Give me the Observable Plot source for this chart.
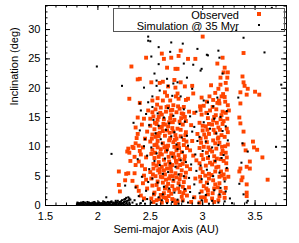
<!DOCTYPE html>
<html><head><meta charset="utf-8">
<script src="https://cdn.jsdelivr.net/npm/d3@7"></script>
<script src="https://cdn.jsdelivr.net/npm/@observablehq/plot@0.6"></script>
<style>
body{margin:0;background:#fff;}
#wrap{position:relative;width:299px;height:243px;font-family:"Liberation Sans",Arial,Helvetica,sans-serif;}
#legend{position:absolute;left:113px;top:8px;width:170px;height:22px;border:1px solid #555;box-sizing:content-box;}
.lt{position:absolute;right:45px;font-size:11px;line-height:11px;color:#000;white-space:nowrap;}
.mk{position:absolute;}
</style></head><body>
<div id="wrap"><div id="legend">
<span class="lt" style="top:1px">Observed</span>
<span class="lt" style="top:12px">Simulation @ 35 Myr</span>
<div class="mk" style="left:143px;top:3px;width:4px;height:4px;background:#ff4500"></div>
<div class="mk" style="left:144px;top:15px;width:2px;height:2px;background:#000"></div>
</div></div>
<script>
const xTicks = [1.5, 2, 2.5, 3, 3.5];
const yTicks = [0, 5, 10, 15, 20, 25, 30];
const xLabel = "Semi-major Axis (AU)";
const yLabel = "Inclination (deg)";
const legendNames = ["Observed", "Simulation @ 35 Myr"];

const observed = [
[2.20,5.8],[2.20,3.5],[2.21,2.4],[2.26,4.3],[2.27,5.4],[2.29,5.5],[2.30,18.2],[2.32,23.7],[2.38,21.5],[2.40,21.6],[2.46,25.2],[2.29,9.7],[2.30,9.0],[2.33,10.0],[2.34,9.8],[2.38,12.2],[2.36,13.3],[2.38,15.0],[2.44,14.8],[2.36,10.6],[2.37,11.5],[2.39,10.2],[2.40,9.3],[2.41,8.7],[2.39,7.5],[2.42,6.8],[2.36,6.9],[2.35,5.5],[2.33,4.2],[2.37,3.2],[2.39,2.5],[2.41,1.7],[2.43,3.8],[2.44,5.1],[2.45,6.2],[2.46,4.4],[2.47,2.9],[2.43,9.9],[2.45,11.4],[2.47,12.6],[2.46,8.2],[2.42,13.8],[2.48,16.2],[2.40,17.5],[2.35,8.3],[2.31,7.6],[2.28,9.2],[2.44,1.2],
[2.51,1.2],[2.52,3.4],[2.50,5.7],[2.53,7.1],[2.51,8.8],[2.54,10.3],[2.52,12.1],[2.50,13.6],[2.53,15.2],[2.55,16.4],[2.51,4.6],[2.54,2.2],[2.52,9.5],[2.55,11.7],[2.53,6.3],[2.50,14.8],[2.54,13.0],[2.52,17.9],[2.51,21.0],[2.55,5.0],[2.53,0.6],[2.54,8.1],[2.50,10.9],[2.52,15.9],
[2.56,0.9],[2.58,2.8],[2.57,4.1],[2.59,5.6],[2.56,6.8],[2.58,8.3],[2.60,9.6],[2.57,11.0],[2.59,12.4],[2.56,13.9],[2.58,15.1],[2.60,16.7],[2.57,18.3],[2.59,20.9],[2.56,3.5],[2.58,7.4],[2.60,4.9],[2.57,9.9],[2.59,13.3],[2.56,10.4],[2.60,1.8],[2.58,11.8],[2.61,25.9],[2.57,14.6],[2.59,6.2],
[2.61,0.5],[2.63,2.1],[2.62,3.9],[2.64,5.3],[2.61,6.6],[2.63,7.8],[2.65,9.2],[2.62,10.6],[2.64,11.9],[2.61,13.4],[2.63,14.7],[2.65,16.0],[2.62,17.9],[2.64,19.3],[2.63,25.0],[2.61,8.7],[2.65,4.4],[2.62,12.7],[2.64,2.9],[2.61,15.5],[2.65,10.1],[2.63,6.0],[2.62,21.1],[2.64,13.8],[2.66,23.5],[2.65,1.3],
[2.66,0.8],[2.68,2.5],[2.67,3.7],[2.69,5.0],[2.66,6.3],[2.68,7.5],[2.70,8.9],[2.67,10.2],[2.69,11.5],[2.66,12.8],[2.68,14.2],[2.70,15.4],[2.67,16.9],[2.69,17.9],[2.70,25.2],[2.66,9.6],[2.68,4.6],[2.70,2.0],[2.67,13.5],[2.69,7.0],[2.66,18.7],[2.68,11.1],[2.70,5.8],[2.67,20.3],[2.69,14.9],
[2.71,1.1],[2.73,2.7],[2.72,4.2],[2.74,5.5],[2.71,6.9],[2.73,8.2],[2.75,9.4],[2.72,10.8],[2.74,12.0],[2.71,13.2],[2.73,14.6],[2.75,15.9],[2.72,17.1],[2.74,20.1],[2.74,23.3],[2.71,3.3],[2.75,7.3],[2.72,12.6],[2.74,0.4],[2.73,10.0],[2.71,16.3],[2.75,4.8],[2.72,8.8],[2.73,21.4],[2.75,11.4],
[2.76,0.7],[2.78,2.3],[2.77,3.8],[2.79,5.2],[2.76,6.5],[2.78,7.9],[2.80,9.1],[2.77,10.5],[2.79,11.8],[2.76,13.1],[2.78,14.3],[2.80,15.7],[2.77,18.2],[2.76,19.1],[2.77,25.5],[2.79,26.4],[2.76,23.3],[2.78,4.5],[2.80,1.5],[2.77,8.6],[2.79,12.9],[2.76,10.0],[2.80,6.0],[2.78,16.5],[2.79,21.0],
[2.81,0.9],[2.83,2.6],[2.82,4.0],[2.84,5.6],[2.81,7.1],[2.83,8.4],[2.85,9.8],[2.82,11.2],[2.84,12.5],[2.81,13.8],[2.83,15.1],[2.82,16.8],[2.84,18.0],[2.81,3.2],[2.85,6.7],[2.82,10.3],[2.84,14.4],[2.83,20.3],[2.85,1.7],
[2.535,1.9],[2.525,5.3],[2.545,9.0],[2.515,11.4],[2.545,14.1],[2.585,1.1],[2.575,6.0],[2.595,8.9],[2.565,12.2],[2.595,15.8],[2.565,17.2],[2.625,1.4],[2.615,4.8],[2.645,7.0],[2.635,9.9],[2.625,13.9],[2.655,16.8],[2.675,1.6],[2.655,3.2],[2.695,6.4],[2.675,8.3],[2.685,12.4],[2.695,16.2],[2.725,0.9],[2.715,5.0],[2.745,7.6],[2.735,11.2],[2.715,14.2],[2.745,18.6],[2.765,2.9],[2.785,6.9],[2.775,9.8],[2.795,14.9],[2.765,16.9],[2.815,2.1],[2.835,4.8],[2.825,7.8],[2.845,10.9],[2.815,15.6],[2.835,12.0],
[2.86,25.0],[2.86,18.2],[2.87,3.1],[2.88,9.4],[2.89,13.7],[2.90,20.4],[2.91,19.1],[2.88,6.2],[2.92,1.4],[2.93,25.0],[2.90,11.0],[2.92,15.8],[2.94,7.7],[2.87,16.0],[2.93,4.6],[2.95,12.2],[2.89,0.6],[2.91,8.5],
[2.97,0.5],[2.99,2.4],[2.98,4.1],[3.00,5.7],[2.97,7.2],[2.99,8.6],[3.01,10.0],[2.98,11.4],[3.00,12.8],[2.97,14.1],[2.99,15.5],[3.01,17.0],[2.99,18.4],[3.00,28.8],[2.98,6.3],[3.01,3.3],[2.97,9.8],[3.00,13.6],[3.02,1.4],[2.98,16.3],
[3.03,0.8],[3.05,2.6],[3.04,3.9],[3.06,5.4],[3.03,6.8],[3.05,8.1],[3.07,9.5],[3.04,10.8],[3.06,12.2],[3.03,13.5],[3.05,14.9],[3.07,16.2],[3.04,17.7],[3.06,4.6],[3.03,11.6],[3.07,7.3],[3.05,1.9],[3.06,13.9],[3.04,9.0],[3.08,20.5],
[3.09,1.2],[3.11,2.9],[3.10,4.3],[3.12,5.8],[3.09,7.0],[3.11,8.4],[3.13,9.7],[3.10,11.1],[3.12,12.4],[3.09,13.8],[3.11,15.1],[3.13,16.4],[3.10,18.0],[3.12,19.2],[3.14,24.2],[3.12,3.6],[3.09,9.2],[3.13,6.5],[3.10,14.5],[3.11,0.6],[3.14,17.5],[3.12,10.6],
[3.15,0.9],[3.17,2.4],[3.16,3.8],[3.18,5.1],[3.15,6.6],[3.17,7.9],[3.19,9.3],[3.16,10.7],[3.18,12.0],[3.15,13.3],[3.17,14.7],[3.19,16.0],[3.16,17.4],[3.18,18.6],[3.15,19.9],[3.17,21.8],[3.19,25.2],[3.20,22.7],[3.16,4.9],[3.18,8.8],[3.15,11.6],[3.19,13.9],[3.17,20.6],[3.16,1.6],[3.18,15.4],
[3.21,1.3],[3.22,3.0],[3.21,4.6],[3.23,6.1],[3.20,7.6],[3.22,9.0],[3.24,10.4],[3.21,11.7],[3.23,13.1],[3.20,14.4],[3.22,15.8],[3.24,17.1],[3.21,18.5],[3.23,19.8],[3.21,23.5],[3.24,22.7],[3.22,20.9],[3.20,5.3],[3.23,8.2],[3.24,12.5],[3.25,16.2],
[2.985,1.4],[2.975,4.9],[3.005,7.9],[2.985,10.7],[3.015,12.1],[2.975,16.9],[3.035,2.9],[3.025,5.1],[3.055,9.9],[3.045,12.9],[3.035,15.8],[3.065,18.6],[3.095,2.1],[3.085,5.2],[3.115,7.5],[3.105,12.9],[3.125,15.4],[3.095,16.8],[3.145,3.1],[3.135,8.0],[3.145,11.4],[3.135,14.1],[3.155,17.9],[3.175,5.8],[3.185,10.0],[3.165,12.9],[3.195,19.0],[3.205,2.1],[3.225,7.2],[3.215,10.1],[3.235,14.8],[3.215,17.7],[3.245,4.9],[3.235,21.8],
[3.39,26.0],[3.38,22.0],[3.39,21.0],[3.40,20.4],[3.43,19.9],[3.36,19.3],[3.50,19.4],[3.42,18.9],[3.54,18.9],[3.36,17.4],[3.35,15.0],[3.36,14.0],[3.39,12.6],[3.48,10.9],[3.39,10.4],[3.49,9.9],[3.52,9.5],[3.41,9.4],[3.57,8.2],[3.45,7.5],[3.42,6.6],[3.45,6.3],[3.36,6.3],[3.35,5.8],[3.38,4.8],[3.37,4.3],[3.62,4.4],[3.42,3.6],[3.42,2.2],[3.42,1.6]
];

const simulation = [
[1.80,0.2],[1.81,0.4],[1.82,0.1],[1.83,0.3],[1.84,0.5],[1.85,0.2],[1.86,0.3],[1.87,0.1],[1.88,0.4],[1.89,0.2],[1.90,0.6],[1.91,0.3],[1.92,0.1],[1.93,0.4],[1.94,0.2],[1.95,0.5],[1.96,0.3],[1.97,0.1],[1.98,0.4],[1.99,0.2],[2.00,0.3],[2.01,0.5],[2.02,0.2],[2.03,0.1],[2.04,0.4],[2.05,0.3],[2.06,0.6],[2.07,0.2],[2.08,0.4],[2.09,0.1],[2.10,0.3],[2.11,0.5],[2.12,0.2],[2.13,0.7],[2.14,0.3],[2.15,0.1],[2.16,0.4],[2.17,0.6],[2.18,0.2],[2.19,0.8],[2.20,0.3],[2.21,0.5],[2.22,0.2],[2.23,0.9],[2.24,0.4],[2.25,0.6],[2.26,1.1],[2.27,0.3],[2.28,0.8],[2.29,1.4],[2.30,0.5],[2.31,1.0],[2.285,0.2],[2.245,0.1],[2.195,0.1],[2.145,0.5],[2.095,0.6],[2.045,0.2],[1.995,0.1],[1.945,0.4],[1.895,0.1],[1.845,0.3],
[1.805,0.5],[1.815,0.1],[1.825,0.4],[1.835,0.2],[1.855,0.4],[1.865,0.1],[1.875,0.5],[1.885,0.3],[1.905,0.2],[1.915,0.5],[1.925,0.3],[1.935,0.1],[1.955,0.2],[1.965,0.6],[1.975,0.3],[1.985,0.2],[2.005,0.5],[2.015,0.1],[2.025,0.4],[2.035,0.3],[2.055,0.1],[2.065,0.3],[2.075,0.5],[2.085,0.2],[2.105,0.4],[2.115,0.2],[2.125,0.6],[2.135,0.1],[2.155,0.3],[2.165,0.2],[2.175,0.4],[2.185,0.5],[2.205,0.6],[2.215,0.2],[2.225,0.4],[2.235,0.3],[2.255,0.2],[2.265,0.7],[2.275,0.5],[2.295,0.9],[2.305,0.2],[2.27,1.3],[2.25,1.0],[2.22,0.7],[2.17,0.8],[2.12,0.6],[2.05,0.7],[1.97,0.5],[1.86,0.6],[2.30,1.2],
[1.99,23.7],[2.13,8.8],[2.23,20.4],[2.08,1.4],[2.26,3.4],[2.44,20.1],[2.48,28.1],[2.48,28.8],[2.50,28.0],[2.58,27.0],[2.51,25.4],[2.58,24.1],[2.54,22.5],[2.56,21.3],[2.56,20.4],[2.59,19.6],[2.48,17.6],[2.40,17.4],[2.52,18.6],
[2.69,26.2],[2.81,27.6],[2.95,26.7],[3.05,25.6],[3.16,25.2],[2.91,24.0],[2.99,23.3],[2.85,21.8],[3.19,22.5],[2.66,21.6],[2.67,20.4],[2.72,20.8],[2.76,21.0],[2.71,18.7],[2.79,18.6],[3.01,17.9],[3.05,17.6],[3.14,18.4],[2.90,19.9],
[2.70,27.8],[2.82,24.2],[2.98,23.0],[3.04,25.7],[3.15,26.4],[3.32,29.8],[3.59,26.1],[3.75,20.6],[3.70,10.0],[3.43,0.8],[3.66,33.7],[3.34,18.4],[3.35,3.7],[3.39,28.6],[3.38,10.6],[3.43,9.2],[3.37,7.3],[3.39,1.9],[3.42,0.5],
[2.45,0.3],[2.47,1.1],[2.46,2.5],[2.48,4.0],[2.49,6.2],[2.47,8.5],[2.45,11.3],[2.49,13.7],[2.46,15.6],[2.43,0.8],[2.41,0.4],[2.39,1.6],[2.37,0.2],[2.35,0.9],[2.33,0.5],[2.36,3.1],[2.42,4.9],[2.38,7.9],[2.40,12.8],[2.34,14.1],[2.44,10.1],[2.41,16.2],
[2.51,0.5],[2.53,2.0],[2.52,4.6],[2.54,7.6],[2.51,9.9],[2.55,12.3],[2.53,14.6],[2.52,16.8],
[2.56,0.2],[2.58,1.4],[2.57,3.9],[2.59,6.9],[2.56,8.9],[2.60,11.3],[2.58,13.6],[2.57,15.7],
[2.61,0.9],[2.63,3.2],[2.62,5.4],[2.64,8.0],[2.61,10.6],[2.65,12.9],[2.63,15.0],[2.62,1.9],
[2.66,0.4],[2.68,2.9],[2.67,5.7],[2.69,7.2],[2.66,9.4],[2.70,11.8],[2.68,14.0],[2.67,16.6],
[2.71,0.6],[2.73,2.2],[2.72,4.4],[2.74,6.6],[2.71,8.3],[2.75,10.4],[2.73,12.5],[2.72,15.3],
[2.76,1.0],[2.78,3.4],[2.77,5.3],[2.79,7.7],[2.76,9.6],[2.80,11.6],[2.78,13.9],[2.77,0.3],
[2.81,0.7],[2.83,2.8],[2.82,5.0],[2.84,7.4],[2.81,9.1],[2.85,11.9],[2.83,14.3],[2.82,16.4],
[2.86,0.5],[2.88,2.3],[2.87,4.7],[2.89,7.0],[2.86,10.2],[2.90,12.6],[2.88,15.2],[2.91,1.3],
[2.92,3.6],[2.94,5.9],[2.93,8.7],[2.95,11.0],[2.92,13.4],[2.94,16.0],[2.96,0.4],
[2.97,2.1],[2.99,4.5],[2.98,6.8],[3.00,9.3],[2.97,11.7],[3.01,14.2],[2.99,0.9],
[3.03,1.8],[3.05,3.7],[3.04,6.1],[3.06,8.4],[3.03,10.9],[3.07,13.1],[3.05,15.6],[3.06,0.3],
[3.09,0.8],[3.11,2.6],[3.10,5.0],[3.12,7.6],[3.09,9.9],[3.13,12.3],[3.11,14.8],[3.10,16.9],
[3.15,0.5],[3.17,3.0],[3.16,5.6],[3.18,8.1],[3.15,10.3],[3.19,12.7],[3.17,15.1],[3.16,1.9],
[3.21,0.7],[3.22,2.4],[3.21,4.1],[3.23,6.4],[3.20,8.6],[3.24,11.1],[3.22,13.5],[3.23,16.1],[3.26,1.2],[3.28,0.4]
];

const W = 299, H = 243, mL = 45, mR = 13, mT = 5, mB = 38;
const innerH = H - mT - mB, innerW = W - mL - mR;
const xMinor = d3.range(15, 39).map(v => v / 10);
const yMinor = d3.range(0, 35);
const majL = 5, minL = 2.5;
const tk = {stroke: "#000", strokeWidth: 1};

const chart = Plot.plot({
  width: W, height: H,
  marginLeft: mL, marginRight: mR, marginTop: mT, marginBottom: mB,
  style: {fontFamily: "'Liberation Sans', Arial, Helvetica, sans-serif", fontSize: "11px", background: "#fff", color: "#000"},
  x: {domain: [1.5, 3.8], ticks: xTicks, tickFormat: d => String(d), tickSize: 0, tickPadding: 7, label: null},
  y: {domain: [0, 34.1], ticks: yTicks, tickSize: 0, tickPadding: 5, label: null},
  marks: [
    Plot.dot(observed, {x: d => d[0], y: d => d[1], symbol: "square", r: 2.2, fill: "#ff4500", stroke: null}),
    Plot.dot(simulation, {x: d => d[0], y: d => d[1], symbol: "square", r: 1.15, fill: "#000", stroke: null}),
    Plot.tickX(xTicks, {x: d => d, insetTop: innerH - majL, ...tk}),
    Plot.tickX(xTicks, {x: d => d, insetBottom: innerH - majL, ...tk}),
    Plot.tickX(xMinor, {x: d => d, insetTop: innerH - minL, ...tk}),
    Plot.tickX(xMinor, {x: d => d, insetBottom: innerH - minL, ...tk}),
    Plot.tickY(yTicks, {y: d => d, insetRight: innerW - majL, ...tk}),
    Plot.tickY(yTicks, {y: d => d, insetLeft: innerW - majL, ...tk}),
    Plot.tickY(yMinor, {y: d => d, insetRight: innerW - minL, ...tk}),
    Plot.tickY(yMinor, {y: d => d, insetLeft: innerW - minL, ...tk}),
    Plot.frame({stroke: "#000", strokeWidth: 1}),
    Plot.text([xLabel], {text: d => d, frameAnchor: "bottom", dy: 27.5, fontSize: 11, fill: "#000"}),
    Plot.text([yLabel], {text: d => d, frameAnchor: "left", dx: -31, rotate: -90, fontSize: 11, fill: "#000"})
  ]
});
document.getElementById("wrap").prepend(chart);
</script>
</body></html>
